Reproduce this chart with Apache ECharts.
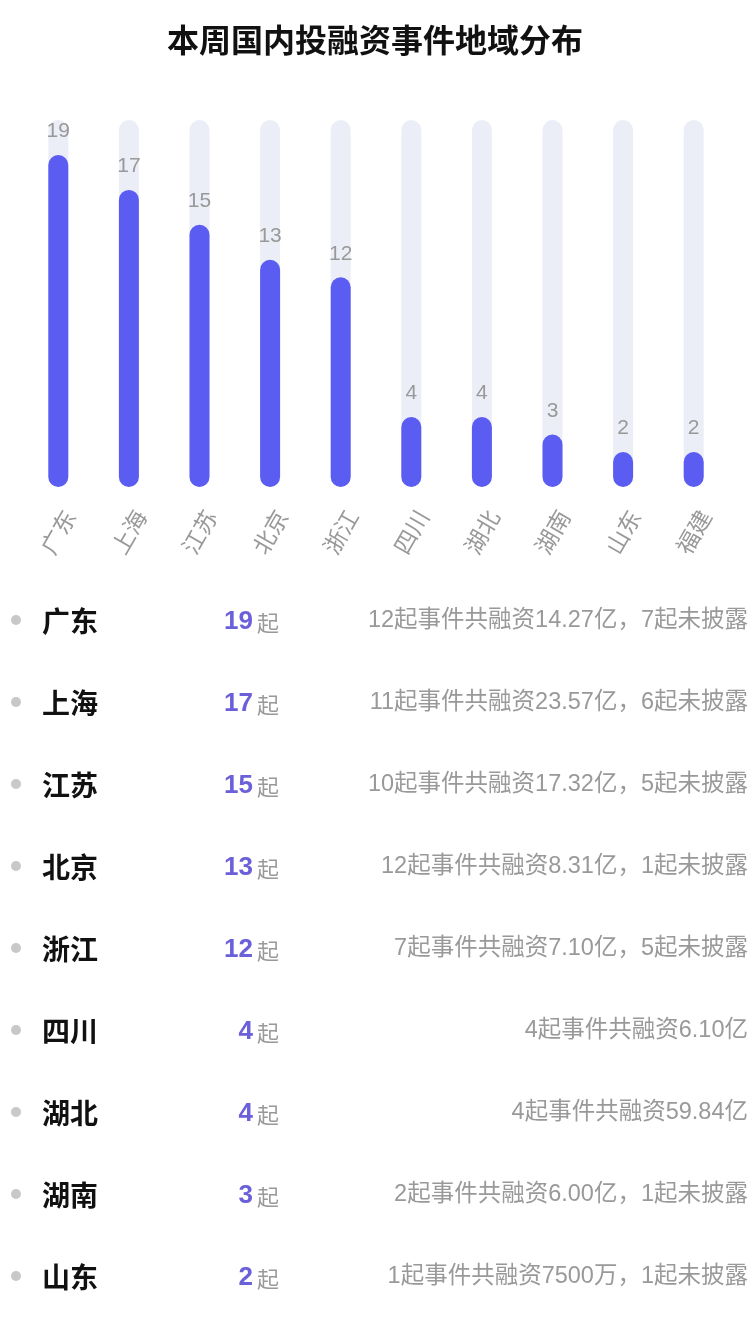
<!DOCTYPE html>
<html>
<head>
<meta charset="utf-8">
<style>
html,body{margin:0;padding:0;background:#fff;}
#c{width:750px;height:1334px;}
</style>
<script src="https://cdn.jsdelivr.net/npm/echarts@6/dist/echarts.min.js"></script>
</head>
<body>
<div id="c"></div>
<script>
const titleText = '本周国内投融资事件地域分布';
const categories = ['广东','上海','江苏','北京','浙江','四川','湖北','湖南','山东','福建'];
const counts = [19,17,15,13,12,4,4,3,2,2];
const listNames = ['广东','上海','江苏','北京','浙江','四川','湖北','湖南','山东'];
const listCounts = [19,17,15,13,12,4,4,3,2];
const listDesc = [
  '12起事件共融资14.27亿，7起未披露',
  '11起事件共融资23.57亿，6起未披露',
  '10起事件共融资17.32亿，5起未披露',
  '12起事件共融资8.31亿，1起未披露',
  '7起事件共融资7.10亿，5起未披露',
  '4起事件共融资6.10亿',
  '4起事件共融资59.84亿',
  '2起事件共融资6.00亿，1起未披露',
  '1起事件共融资7500万，1起未披露'
];
const unit = '起';

const FONT = '"Liberation Sans", "Noto Sans CJK SC", sans-serif';
const CJK = '"Noto Sans CJK SC", sans-serif';
const chart = echarts.init(document.getElementById('c'), null, {renderer:'canvas'});

const graphics = [];
const rowTop = 621, rowGap = 82;
listNames.forEach((name, i) => {
  const y = rowTop + i * rowGap;
  graphics.push({type:'circle', shape:{cx:16, cy:y-1, r:5}, style:{fill:'#c8c8c8'}});
  graphics.push({type:'text', x:42, y:y, style:{text:name, fill:'#111', font:'bold 28px ' + CJK, textVerticalAlign:'middle', textAlign:'left'}});
  graphics.push({type:'text', x:253, y:y+1, style:{text:String(listCounts[i]), fill:'#6b60d9', font:'bold 26px ' + FONT, textVerticalAlign:'middle', textAlign:'right'}});
  graphics.push({type:'text', x:257, y:y+2, style:{text:unit, fill:'#999', font:'22px ' + CJK, textVerticalAlign:'middle', textAlign:'left'}});
  graphics.push({type:'text', x:748, y:y, style:{text:listDesc[i], fill:'#999', font:'23.5px ' + FONT, textVerticalAlign:'middle', textAlign:'right'}});
});

chart.setOption({
  backgroundColor:'#fff',
  animation:false,
  title:{text:titleText, left:'center', top:19, textStyle:{fontSize:32, fontWeight:'bold', color:'#111', fontFamily:CJK}},
  grid:{left:23, right:21, top:120, bottom:847, containLabel:false},
  xAxis:{
    type:'category', data:categories,
    axisLine:{show:false}, axisTick:{show:false},
    axisLabel:{rotate:60, align:'center', verticalAlign:'middle', color:'#999', fontSize:23, margin:45, fontFamily:CJK}
  },
  yAxis:{type:'value', min:0, max:21, show:false, splitLine:{show:false}},
  series:[{
    type:'bar', data:counts, barWidth:20,
    showBackground:true,
    backgroundStyle:{color:'#eceef7', borderRadius:10},
    itemStyle:{color:'#5b5cf2', borderRadius:10},
    label:{show:true, position:'top', distance:13, color:'#999', fontSize:21, fontFamily:FONT}
  }],
  graphic:graphics
});
</script>
</body>
</html>
